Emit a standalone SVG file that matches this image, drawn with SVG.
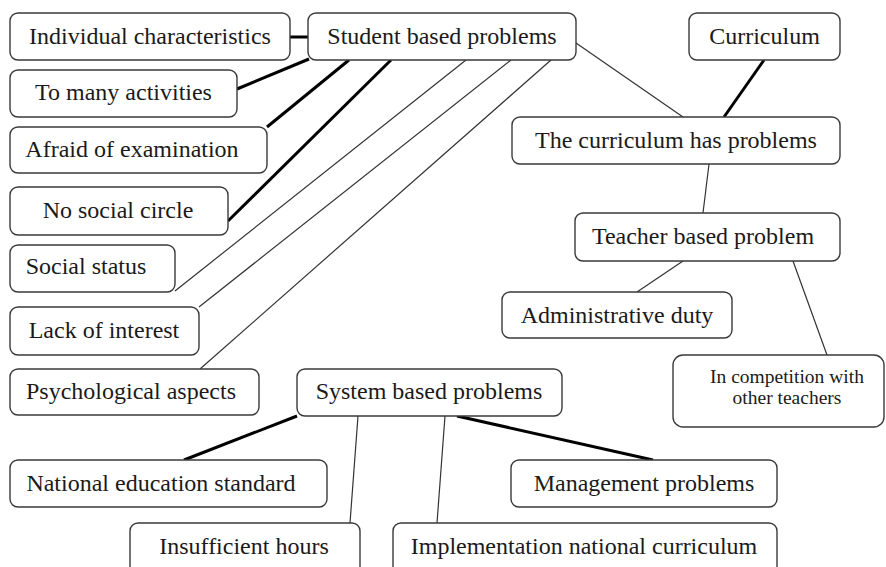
<svg xmlns="http://www.w3.org/2000/svg" width="886" height="567" viewBox="0 0 886 567">
<style>
.box{fill:#fff;stroke:#3a3a3a;stroke-width:1.4}
.t{font-family:"Liberation Serif","Times New Roman",serif;font-size:24px;fill:#1a1a1a;text-anchor:middle}
.s{font-size:19.5px}
.thick{stroke:#000;stroke-width:3;fill:none}
.thin{stroke:#333;stroke-width:1.2;fill:none}
</style>
<rect width="886" height="567" fill="#fff"/>
<g id="connectors">
<line class="thick" x1="290" y1="37" x2="308" y2="37"/>
<line class="thick" x1="237" y1="89" x2="309" y2="59"/>
<line class="thick" x1="267" y1="127" x2="349" y2="60"/>
<line class="thick" x1="228" y1="221" x2="391" y2="60"/>
<line class="thin" x1="175" y1="291" x2="466" y2="60"/>
<line class="thin" x1="199" y1="307" x2="511" y2="60"/>
<line class="thin" x1="200" y1="369" x2="551" y2="60"/>
<line class="thin" x1="576" y1="43" x2="683" y2="117"/>
<line class="thick" x1="764" y1="60" x2="724" y2="117"/>
<line class="thin" x1="709" y1="164" x2="703" y2="213"/>
<line class="thin" x1="683" y1="261" x2="637" y2="292"/>
<line class="thin" x1="793" y1="261" x2="827" y2="355"/>
<line class="thick" x1="297" y1="416" x2="184" y2="460"/>
<line class="thin" x1="358" y1="416" x2="350" y2="523"/>
<line class="thin" x1="445" y1="416" x2="437" y2="523"/>
<line class="thick" x1="457" y1="416" x2="653" y2="460"/>
</g>
<g id="individual"><rect class="box" x="10" y="13" width="280" height="47" rx="8"/><text class="t" x="150" y="44">Individual characteristics</text></g>
<g id="student"><rect class="box" x="308" y="13" width="268" height="47" rx="8"/><text class="t" x="442" y="44">Student based problems</text></g>
<g id="curriculum"><rect class="box" x="689" y="13" width="151" height="47" rx="8"/><text class="t" x="764.5" y="44">Curriculum</text></g>
<g id="activities"><rect class="box" x="10" y="70" width="227" height="47" rx="8"/><text class="t" x="123.5" y="100">To many activities</text></g>
<g id="exam"><rect class="box" x="10" y="127" width="257" height="46" rx="8"/><text class="t" x="132" y="157">Afraid of examination</text></g>
<g id="curproblems"><rect class="box" x="512" y="117" width="328" height="47" rx="8"/><text class="t" x="676" y="148">The curriculum has problems</text></g>
<g id="social-circle"><rect class="box" x="10" y="187" width="218" height="48" rx="8"/><text class="t" x="118" y="218">No social circle</text></g>
<g id="teacher"><rect class="box" x="575" y="213" width="265" height="48" rx="8"/><text class="t" x="703" y="244">Teacher based problem</text></g>
<g id="social-status"><rect class="box" x="10" y="245" width="165" height="47" rx="8"/><text class="t" x="86" y="274">Social status</text></g>
<g id="admin"><rect class="box" x="502" y="292" width="230" height="46" rx="8"/><text class="t" x="617" y="323">Administrative duty</text></g>
<g id="interest"><rect class="box" x="10" y="307" width="189" height="48" rx="8"/><text class="t" x="104" y="338">Lack of interest</text></g>
<g id="competition"><rect class="box" x="673" y="355" width="211" height="72" rx="10"/><text class="t s" x="787" y="383">In competition with</text><text class="t s" x="787" y="404">other teachers</text></g>
<g id="psych"><rect class="box" x="10" y="369" width="249" height="46" rx="8"/><text class="t" x="131" y="399">Psychological aspects</text></g>
<g id="system"><rect class="box" x="297" y="369" width="265" height="47" rx="8"/><text class="t" x="429" y="399">System based problems</text></g>
<g id="national"><rect class="box" x="10" y="460" width="317" height="47" rx="8"/><text class="t" x="161" y="491">National education standard</text></g>
<g id="management"><rect class="box" x="511" y="460" width="266" height="47" rx="8"/><text class="t" x="644" y="491">Management problems</text></g>
<g id="insufficient"><rect class="box" x="130" y="523" width="230" height="60" rx="8"/><text class="t" x="244" y="554">Insufficient hours</text></g>
<g id="implementation"><rect class="box" x="393" y="523" width="384" height="60" rx="8"/><text class="t" x="584" y="554">Implementation national curriculum</text></g>
</svg>
